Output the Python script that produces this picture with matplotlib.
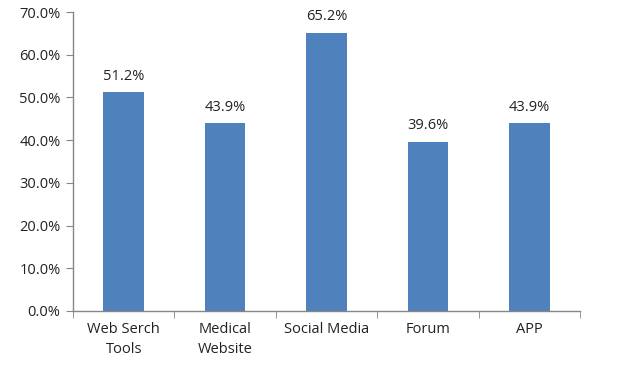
import matplotlib
matplotlib.use("Agg")
import matplotlib.pyplot as plt
from matplotlib.ticker import FuncFormatter, FixedLocator
import numpy as np

categories = ["Web Serch\nTools", "Medical\nWebsite", "Social Media", "Forum", "APP"]
values = [51.2, 43.9, 65.2, 39.6, 43.9]

plt.rcParams['font.family'] = ['Open Sans', 'DejaVu Sans']

fig = plt.figure(figsize=(6.23, 3.65), dpi=100)
ax = fig.add_axes([73/623, 1 - 311/365, (580-73)/623, (311-12)/365])

x = np.arange(len(categories))
bars = ax.bar(x, values, width=0.4, color="#4F81BD", zorder=2)
for xi, v in zip(x, values):
    ax.text(xi, v + 2.0, f"{v:.1f}%", ha="center", va="bottom", fontsize=10.5, color="#222222")

ax.set_xlim(-0.5, len(categories) - 0.5)
ax.set_ylim(0, 70)
ax.set_yticks(np.arange(0, 71, 10))
ax.yaxis.set_major_formatter(FuncFormatter(lambda v, p: f"{v:.1f}%"))
ax.set_xticks(x)
ax.set_xticklabels(categories, fontsize=10.5, color="#222222", linespacing=1.45)
ax.xaxis.set_minor_locator(FixedLocator(np.arange(-0.5, len(categories), 1)))
ax.tick_params(axis="x", which="major", length=0, pad=8)
ax.tick_params(axis="x", which="minor", length=5, color="#868686")
ax.tick_params(axis="y", length=5, color="#868686", labelsize=10.5, labelcolor="#222222", pad=4)

for s in ["top", "right"]:
    ax.spines[s].set_visible(False)
for s in ["left", "bottom"]:
    ax.spines[s].set_color("#868686")
    ax.spines[s].set_linewidth(1.0)

fig.savefig("out.png", dpi=100)
